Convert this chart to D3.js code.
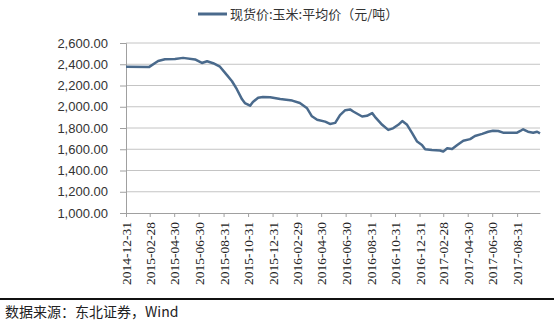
<!DOCTYPE html>
<html>
<head>
<meta charset="utf-8">
<script src="https://cdn.jsdelivr.net/npm/d3@7"></script>
<style>
  body { margin: 0; background: #fff; }
  svg { display: block; }
</style>
</head>
<body>
<svg id="chart" width="554" height="322"></svg>
<script>
"use strict";

// Series name and source
const seriesName = "现货价:玉米:平均价（元/吨）";
const sourceText = "数据来源：东北证券，Wind";

// Tick labels on the x axis (every two months)
const xTickLabels = ["2014-12-31", "2015-02-28", "2015-04-30", "2015-06-30", "2015-08-31",
  "2015-10-31", "2015-12-31", "2016-02-29", "2016-04-30", "2016-06-30", "2016-08-31",
  "2016-10-31", "2016-12-31", "2017-02-28", "2017-04-30", "2017-06-30", "2017-08-31"];

const yTicks = [1000, 1200, 1400, 1600, 1800, 2000, 2200, 2400, 2600];

const dates = ["2014-12-31", "2015-02-27", "2015-03-21", "2015-04-07", "2015-05-02", "2015-05-22",
  "2015-06-21", "2015-07-08", "2015-07-21", "2015-08-05", "2015-08-22", "2015-09-09",
  "2015-09-21", "2015-10-03", "2015-10-16", "2015-10-23", "2015-11-05", "2015-11-12",
  "2015-11-25", "2015-12-07", "2015-12-25", "2016-01-19", "2016-02-18", "2016-03-08",
  "2016-03-26", "2016-04-07", "2016-04-20", "2016-05-10", "2016-05-22", "2016-06-04",
  "2016-06-16", "2016-06-29", "2016-07-11", "2016-07-19", "2016-08-10", "2016-08-22",
  "2016-09-04", "2016-09-11", "2016-09-29", "2016-10-14", "2016-10-26", "2016-11-08",
  "2016-11-18", "2016-11-30", "2016-12-13", "2016-12-25", "2017-01-06", "2017-01-14",
  "2017-01-31", "2017-02-20", "2017-02-28", "2017-03-10", "2017-03-22", "2017-04-04",
  "2017-04-19", "2017-05-06", "2017-05-18", "2017-06-05", "2017-06-20", "2017-07-02",
  "2017-07-15", "2017-07-27", "2017-08-31", "2017-09-08", "2017-09-15", "2017-09-27",
  "2017-10-10", "2017-10-20", "2017-10-27"];

const prices = [2377, 2375, 2430, 2447, 2450, 2460,
  2445, 2412, 2428, 2410, 2377, 2295,
  2240, 2165, 2070, 2035, 2010, 2045,
  2085, 2092, 2090, 2072, 2058, 2035,
  1985, 1910, 1878, 1860, 1838, 1848,
  1922, 1968, 1975, 1955, 1908, 1915,
  1940, 1905, 1830, 1782, 1797, 1830,
  1865, 1830, 1750, 1672, 1640, 1600,
  1592, 1588, 1578, 1610, 1602, 1640,
  1680, 1695, 1725, 1745, 1765, 1775,
  1772, 1756, 1756, 1772, 1788, 1765,
  1756, 1765, 1750];

const parse = d3.timeParse("%Y-%m-%d");
const data = dates.map((d, i) => ({date: parse(d), value: prices[i]}));

const svg = d3.select("#chart");

const x = d3.scaleTime()
    .domain([parse("2014-12-31"), parse("2017-10-27")])
    .range([126, 540]);

const y = d3.scaleLinear()
    .domain([1000, 2600])
    .range([213, 43]);

const lineColor = "#4a6a8c";

// Gridlines
svg.append("g")
    .selectAll("line")
    .data(yTicks.slice(1))
    .join("line")
    .attr("x1", x.range()[0])
    .attr("x2", x.range()[1])
    .attr("y1", d => y(d))
    .attr("y2", d => y(d))
    .attr("stroke", "#c4c4c4")
    .attr("stroke-width", 1);

// Y axis
const yAxis = svg.append("g")
    .attr("transform", "translate(" + x.range()[0] + ",0)")
    .call(d3.axisLeft(y).tickValues(yTicks).tickSize(6).tickPadding(12)
      .tickFormat(d3.format(",.2f")));

yAxis.select(".domain").attr("stroke", "#a0a0a0");
yAxis.selectAll(".tick line").attr("stroke", "#a0a0a0");
yAxis.selectAll("text")
    .attr("fill", "#333")
    .style("font-family", "'Liberation Sans', Arial, sans-serif")
    .style("font-size", "13px");

// X axis
const xAxis = svg.append("g")
    .attr("transform", "translate(0," + y.range()[0] + ")")
    .call(d3.axisBottom(x).tickValues(xTickLabels.map(parse)).tickSize(4).tickSizeOuter(0)
      .tickFormat(d3.timeFormat("%Y-%m-%d")));

xAxis.select(".domain").attr("stroke", "#a0a0a0");
xAxis.selectAll(".tick line").attr("stroke", "#a0a0a0");
xAxis.selectAll("text")
    .attr("fill", "#222")
    .attr("transform", "rotate(-90)")
    .attr("text-anchor", "end")
    .attr("x", -9)
    .attr("y", 0)
    .attr("dy", "0.35em")
    .style("font-family", "'Liberation Serif', 'Times New Roman', serif")
    .style("font-size", "13.5px");

// Price line
svg.append("path")
    .datum(data)
    .attr("fill", "none")
    .attr("stroke", lineColor)
    .attr("stroke-width", 2.5)
    .attr("stroke-linejoin", "round")
    .attr("d", d3.line().x(d => x(d.date)).y(d => y(d.value)));

// Legend
svg.append("line")
    .attr("x1", 198).attr("x2", 227)
    .attr("y1", 14).attr("y2", 14)
    .attr("stroke", lineColor)
    .attr("stroke-width", 3);

svg.append("text")
    .attr("x", 230)
    .attr("y", 19)
    .attr("fill", "#333")
    .style("font-family", "'Noto Sans CJK SC', sans-serif")
    .style("font-size", "13px")
    .text(seriesName);

// Source line and note
svg.append("line")
    .attr("x1", 0).attr("x2", 554)
    .attr("y1", 299).attr("y2", 299)
    .attr("stroke", "#111")
    .attr("stroke-width", 2);

svg.append("text")
    .attr("x", 5)
    .attr("y", 317)
    .attr("fill", "#222")
    .style("font-family", "'Noto Sans CJK SC', sans-serif")
    .style("font-size", "14px")
    .text(sourceText);
</script>
</body>
</html>
